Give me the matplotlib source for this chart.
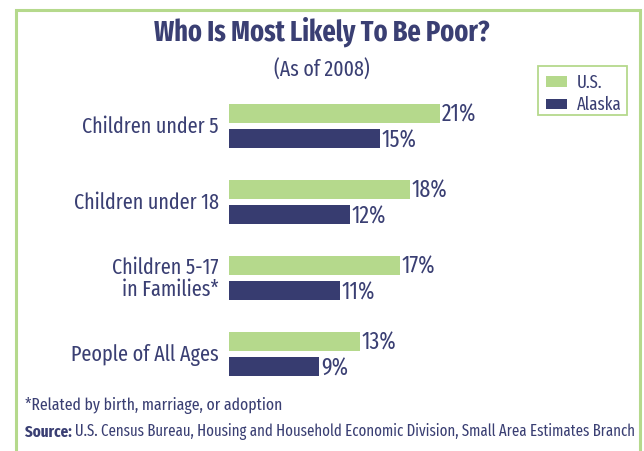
import matplotlib
matplotlib.use("Agg")
import matplotlib.pyplot as plt
from matplotlib.patches import Rectangle
import numpy as np

categories = ["Children under 5", "Children under 18", "Children 5-17\nin Families*", "People of All Ages"]
us_values = [21, 18, 17, 13]
alaska_values = [15, 12, 11, 9]

GREEN = "#b5d98c"
NAVY = "#373c70"
TEXT = "#3a3f73"

plt.rcParams["font.family"] = ["Fira Sans Extra Condensed", "DejaVu Sans"]

W, H = 644, 451
fig = plt.figure(figsize=(W / 100, H / 100), dpi=100)


def fx(px):
    return px / W


def fy(py):
    return 1 - py / H


# outer frame (bottom edge runs off the picture)
fig.patches.append(Rectangle((fx(16), fy(470)), fx(624), fy(10) - fy(470),
                             transform=fig.transFigure, fill=False,
                             edgecolor=GREEN, linewidth=2.2, clip_on=False))

ax = fig.add_axes([fx(229), fy(392), fx(402), fy(88) - fy(392)])
y = np.arange(len(categories))
off = 12.5 / 76
h = 19 / 76
ax.barh(y - off, us_values, height=h, color=GREEN, label="U.S.")
ax.barh(y + off, alaska_values, height=h, color=NAVY, label="Alaska")
ax.set_xlim(0, 40)
ax.set_ylim(len(categories) - 0.5, -0.5)
ax.axis("off")

for i, (u, a) in enumerate(zip(us_values, alaska_values)):
    ax.text(u + 0.2, i - off + 0.02, f"{u}%", va="center", ha="left", fontsize=17, color=TEXT)
    ax.text(a + 0.2, i + off + 0.03, f"{a}%", va="center", ha="left", fontsize=17, color=TEXT)
    ax.text(-1.0, i + 0.01, categories[i], va="center", ha="right", fontsize=15.8,
            color=TEXT, linespacing=1.0)

fig.text(fx(322), fy(32), "Who Is Most Likely To Be Poor?", ha="center", va="center",
         fontsize=20.5, fontweight="bold", color=TEXT)
fig.text(fx(322), fy(70), "(As of 2008)", ha="center", va="center", fontsize=15.5, color=TEXT)

# legend box
fig.patches.append(Rectangle((fx(538), fy(115)), fx(89), fy(66) - fy(115),
                             transform=fig.transFigure, fill=False,
                             edgecolor=GREEN, linewidth=1.3))
leg = ax.legend(loc="upper left", bbox_to_anchor=(fx(546), fy(74)),
                bbox_transform=fig.transFigure, frameon=False, fontsize=13,
                handlelength=1.15, handleheight=0.55, handletextpad=0.55,
                labelspacing=0.25, borderpad=0.0, borderaxespad=0.0)
for t in leg.get_texts():
    t.set_color(TEXT)

fig.text(fx(25), fy(406), "*Related by birth, marriage, or adoption", ha="left", va="center",
         fontsize=12.3, color=TEXT)
src = fig.text(fx(25), fy(432), "Source:", ha="left", va="center", fontsize=11.8,
               fontweight="bold", color=TEXT)
fig.canvas.draw()
bb = src.get_window_extent()
fig.text(bb.x1 / W + fx(3), fy(432),
         "U.S. Census Bureau, Housing and Household Economic Division, Small Area Estimates Branch",
         ha="left", va="center", fontsize=11.6, color=TEXT)

fig.savefig("out.png", dpi=100)
